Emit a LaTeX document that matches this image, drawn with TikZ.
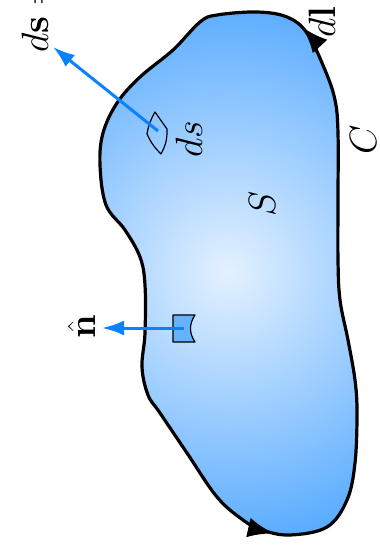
\documentclass[tikz,border=0pt]{standalone}
\usepackage{amsmath,amssymb}
\usetikzlibrary{arrows.meta,decorations.markings}
\definecolor{surfblue}{RGB}{70,162,255}
\definecolor{surflight}{RGB}{228,241,255}
\definecolor{vecblue}{RGB}{10,130,255}
\definecolor{patchblue}{RGB}{102,178,255}

\begin{document}
\begin{tikzpicture}[x=1pt,y=-1pt,
  every node/.style={font=\Huge},
  lbl/.style={rotate=90,scale=1.53,anchor=base west,inner sep=0pt},
  contour/.style={line width=3.2pt,line join=round},
  vecarrow/.style={vecblue,line width=3pt,-{Latex[length=22pt,width=15pt]}},
  patch/.style={draw=black,line width=1.2pt,line join=round},
  flowtip/.style={decoration={markings,
      mark=at position 0.49 with {\arrow{Latex[length=26pt,width=20pt]}},
      mark=at position 0.931 with {\arrow{Latex[length=26pt,width=20pt]}}},
    postaction={decorate}}
]
  \path[use as bounding box] (0,0) rectangle (380,547);
  \clip (0,0) rectangle (380,547);

  % surface S bounded by C
  \draw[contour,flowtip,path picture={
      \fill[shading=radial,inner color=surflight,outer color=surfblue]
        (228,272) circle[radius=310pt];}]
    plot[smooth cycle,tension=0.6] coordinates {
    (257,12) (217,15) (200,22) (173,50) (140,77) (117,103) (103,133)
    (100,165) (106,205) (125,230) (140,257) (145,285) (145,333) (142,367)
    (148,395) (160,413) (187,453) (217,497) (243,520) (262,530) (290,535)
    (327,527) (347,500) (355,463) (357,413) (355,380) (348,340) (340,300)
    (338,260) (338,200) (338,133) (335,100) (325,70) (307,33) (287,17)};

  % patch ds and its vector
  \coordinate (dsc) at (158,131);
  \coordinate (dsend) at (53,47);
  \draw[patch] (155,112) -- (167,129) to[bend left=15] (161,154)
    to[bend left=10] (147,134) to[bend left=10] cycle;
  \draw[vecarrow] (dsc) -- (dsend);

  % patch with unit normal
  \coordinate (nc) at (184,328);
  \coordinate (ntip) at (102,328);
  \draw[patch,fill=patchblue] (173,315) -- (195,315)
    .. controls (189,324) and (189,333) .. (195,342) -- (173,342) -- cycle;
  \draw[vecarrow] (nc) -- (ntip);

  \node[lbl] (dsvec) at (48,53) {$d\mathbf{s}=$};
  \node[lbl] (dslbl) at (202,158) {$ds$};
  \node[lbl] (dl) at (335,38) {$d\mathbf{l}$};
  \node[lbl] (clbl) at (376,155) {$C$};
  \node[lbl] (slbl) at (275,217) {$S$};
  \node[lbl] (nhat) at (95,339) {$\hat{\mathbf{n}}$};
\end{tikzpicture}
\end{document}
